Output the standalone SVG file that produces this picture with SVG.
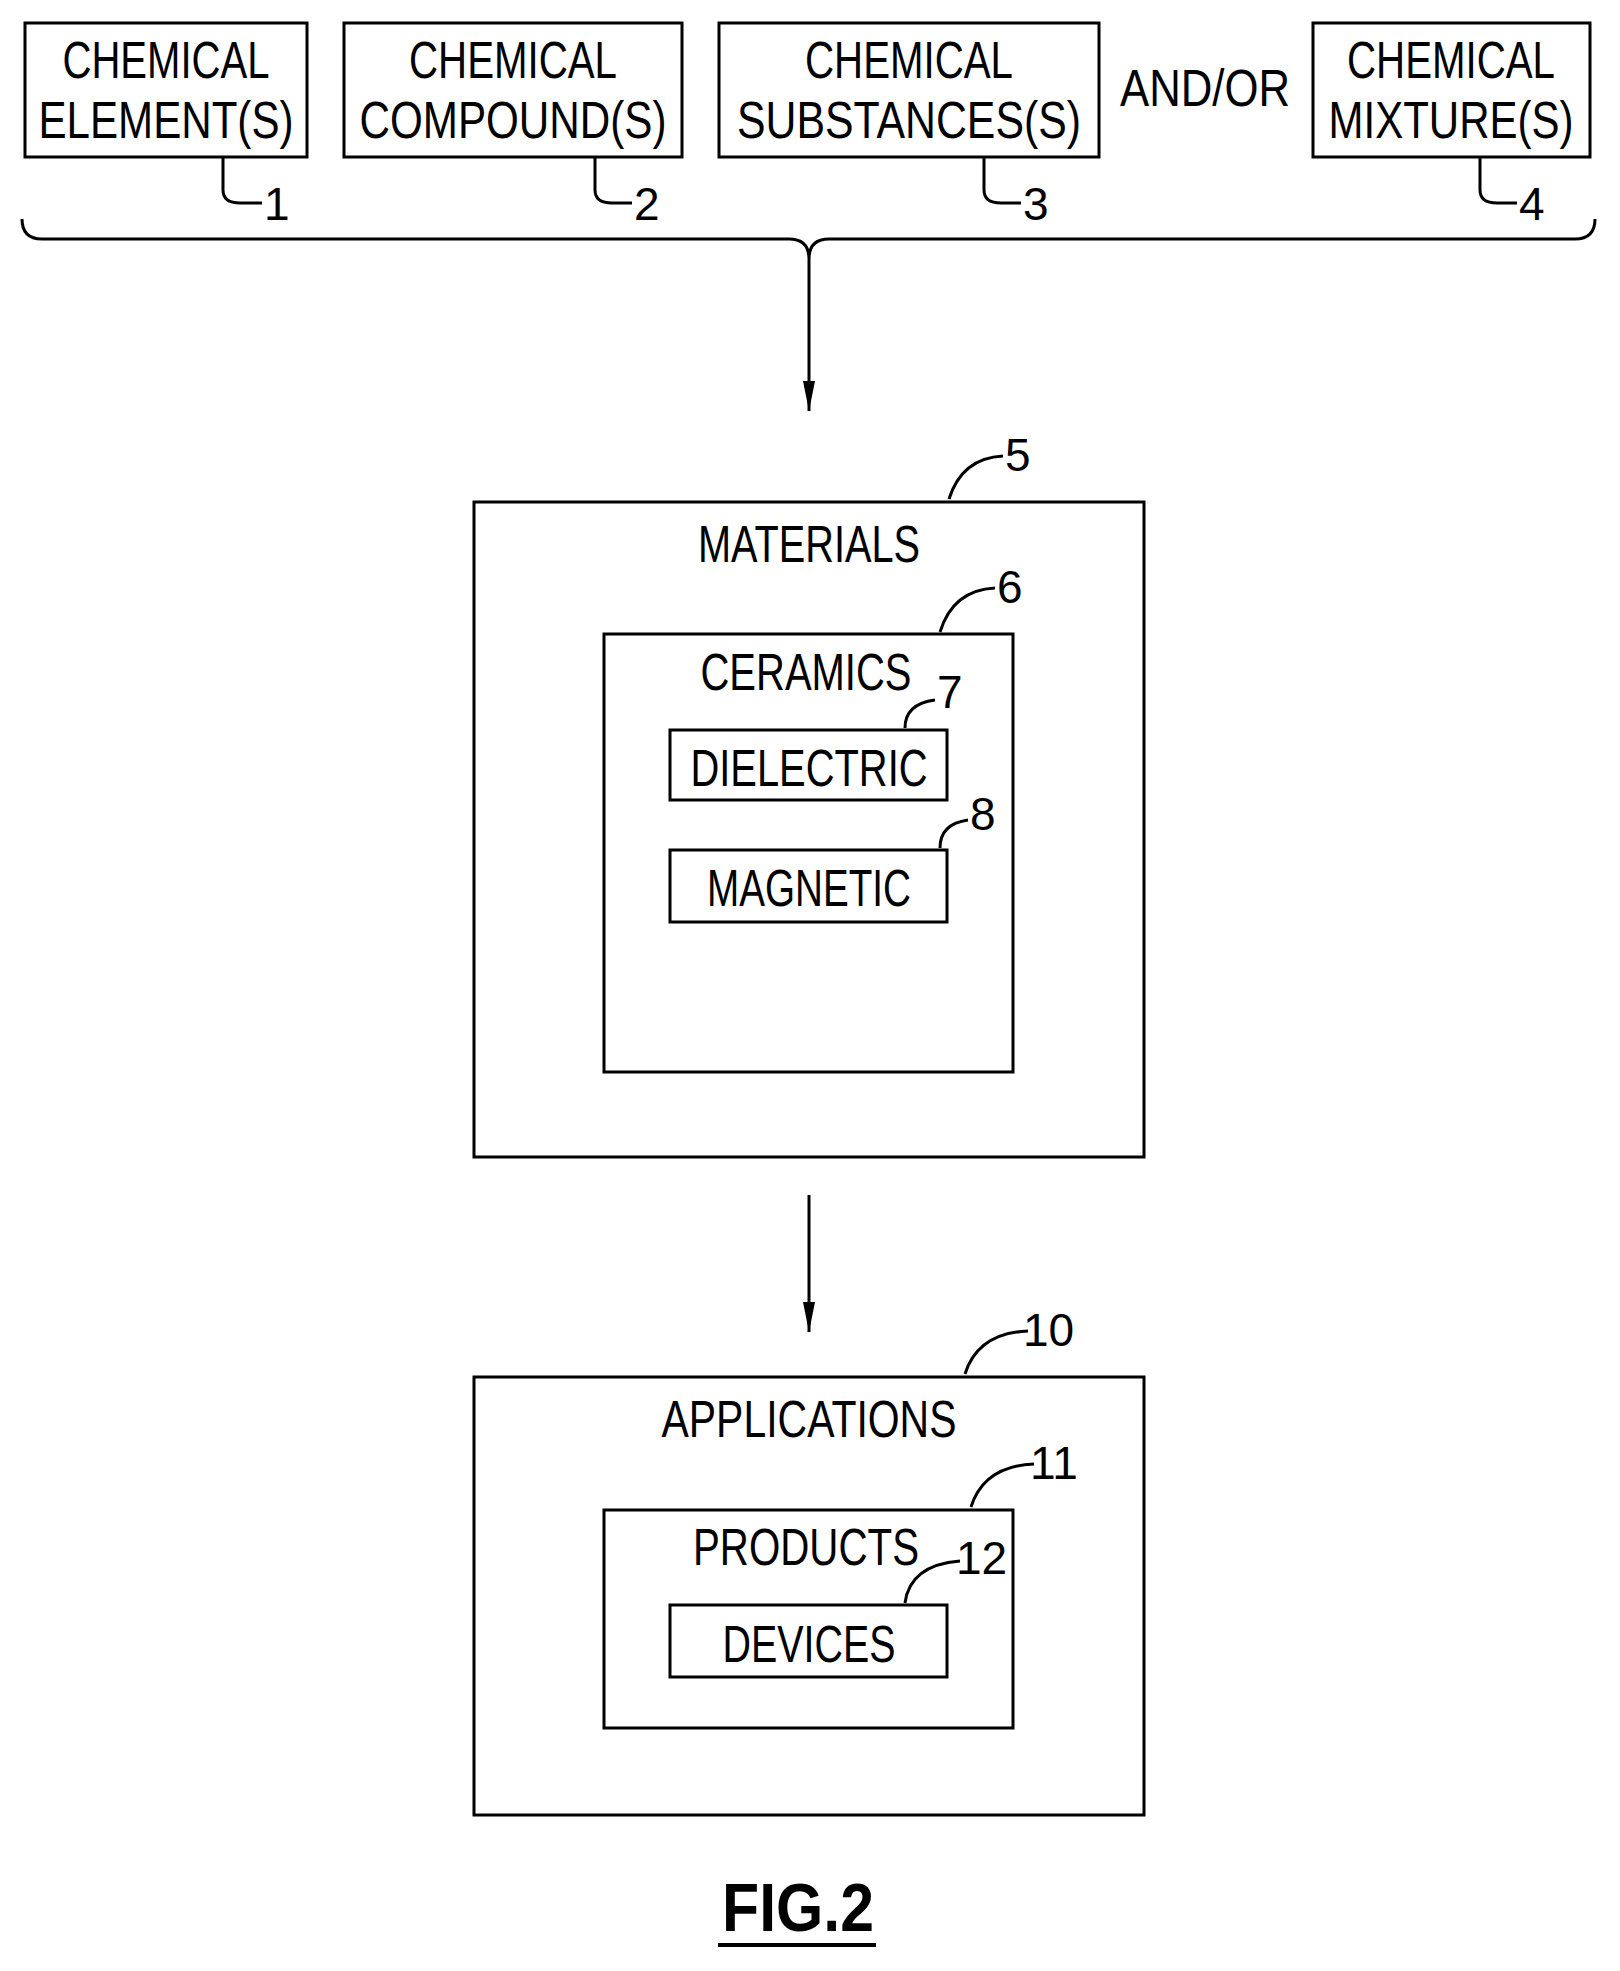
<svg xmlns="http://www.w3.org/2000/svg" width="1620" height="1971" viewBox="0 0 1620 1971">
<style>
rect{fill:#fff;stroke:#000;stroke-width:3}
.t{font-family:"Liberation Sans",sans-serif;font-size:52px;text-anchor:middle;fill:#000}
.n{font-family:"Liberation Sans",sans-serif;font-size:46px;fill:#000}
path{fill:none;stroke:#000;stroke-width:3}
</style>
<defs><marker id="a" markerWidth="32" markerHeight="14" refX="30" refY="7" orient="auto" markerUnits="userSpaceOnUse"><path d="M0,1 L30,7 L0,13 Z" style="fill:#000;stroke:none"/></marker></defs>
<g id="n1"><rect x="25" y="23" width="282" height="134"/><text class="t" x="166" y="78" textLength="207" lengthAdjust="spacingAndGlyphs">CHEMICAL</text><text class="t" x="166" y="138" textLength="255" lengthAdjust="spacingAndGlyphs">ELEMENT(S)</text></g>
<g id="n2"><rect x="344" y="23" width="338" height="134"/><text class="t" x="513" y="78" textLength="208" lengthAdjust="spacingAndGlyphs">CHEMICAL</text><text class="t" x="513" y="138" textLength="307" lengthAdjust="spacingAndGlyphs">COMPOUND(S)</text></g>
<g id="n3"><rect x="719" y="23" width="380" height="134"/><text class="t" x="909" y="78" textLength="208" lengthAdjust="spacingAndGlyphs">CHEMICAL</text><text class="t" x="909" y="138" textLength="344" lengthAdjust="spacingAndGlyphs">SUBSTANCES(S)</text></g>
<text class="t" x="1205" y="106" textLength="170" lengthAdjust="spacingAndGlyphs">AND/OR</text>
<g id="n4"><rect x="1313" y="23" width="277" height="134"/><text class="t" x="1451" y="78" textLength="208" lengthAdjust="spacingAndGlyphs">CHEMICAL</text><text class="t" x="1451" y="138" textLength="245" lengthAdjust="spacingAndGlyphs">MIXTURE(S)</text></g>
<g id="n5"><rect x="474" y="502" width="670" height="655"/><text class="t" x="809" y="562" textLength="222" lengthAdjust="spacingAndGlyphs">MATERIALS</text></g>
<g id="n6"><rect x="604" y="634" width="409" height="438"/><text class="t" x="806" y="690" textLength="211" lengthAdjust="spacingAndGlyphs">CERAMICS</text></g>
<g id="n7"><rect x="670" y="730" width="277" height="70"/><text class="t" x="809" y="786" textLength="237" lengthAdjust="spacingAndGlyphs">DIELECTRIC</text></g>
<g id="n8"><rect x="670" y="850" width="277" height="72"/><text class="t" x="809" y="906" textLength="204" lengthAdjust="spacingAndGlyphs">MAGNETIC</text></g>
<g id="n10"><rect x="474" y="1377" width="670" height="438"/><text class="t" x="809" y="1437" textLength="295" lengthAdjust="spacingAndGlyphs">APPLICATIONS</text></g>
<g id="n11"><rect x="604" y="1510" width="409" height="218"/><text class="t" x="806" y="1565" textLength="226" lengthAdjust="spacingAndGlyphs">PRODUCTS</text></g>
<g id="n12"><rect x="670" y="1605" width="277" height="72"/><text class="t" x="809" y="1662" textLength="173" lengthAdjust="spacingAndGlyphs">DEVICES</text></g>
<g id="connectors">
<path d="M22,219 Q22,239 42,239 L789,239 Q809,239 809,259 Q809,239 829,239 L1575,239 Q1595,239 1595,219"/>
<path d="M809,259 L809,411" marker-end="url(#a)"/>
<path d="M809,1195 L809,1332" marker-end="url(#a)"/>
<path d="M223,157 L223,190 Q223,203 240,203 L262,203"/>
<path d="M595,157 L595,190 Q595,203 612,203 L632,203"/>
<path d="M984,157 L984,190 Q984,203 1001,203 L1021,203"/>
<path d="M1480,157 L1480,190 Q1480,203 1497,203 L1517,203"/>
<path d="M949,499 Q962,458 1003,456"/>
<path d="M940,632 Q953,590 995,588"/>
<path d="M905,728 Q905,704 935,700"/>
<path d="M940,848 Q940,824 968,820"/>
<path d="M965,1374 Q978,1333 1028,1331"/>
<path d="M971,1507 Q984,1466 1034,1464"/>
<path d="M905,1603 Q910,1565 960,1561"/>
</g>
<text class="n" x="264" y="220">1</text><text class="n" x="634" y="220">2</text><text class="n" x="1023" y="220">3</text><text class="n" x="1519" y="220">4</text>
<text class="n" x="1005" y="471">5</text><text class="n" x="997" y="603">6</text><text class="n" x="937" y="708">7</text><text class="n" x="970" y="830">8</text>
<text class="n" x="1023" y="1346">10</text><text class="n" x="1030" y="1479">11</text><text class="n" x="956" y="1574">12</text>
<text x="798" y="1931" style="font-family:'Liberation Sans',sans-serif;font-size:68px;font-weight:bold;text-anchor:middle" textLength="152" lengthAdjust="spacingAndGlyphs">FIG.2</text>
<path d="M718,1945 L876,1945" style="stroke-width:4"/>
</svg>
